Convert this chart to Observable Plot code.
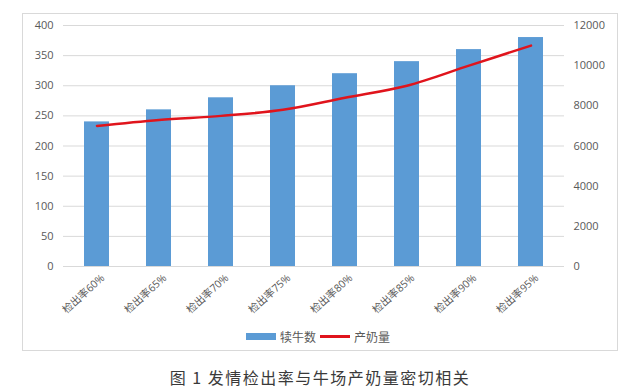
<!DOCTYPE html>
<html>
<head>
<meta charset="utf-8">
<script src="https://cdn.jsdelivr.net/npm/d3@7"></script>
<script src="https://cdn.jsdelivr.net/npm/@observablehq/plot@0.6"></script>
<style>
  body { margin: 0; background: #fff; width: 640px; height: 389px; position: relative; overflow: hidden; font-family: "Open Sans", "Noto Sans CJK SC", sans-serif; }
  #frame { position: absolute; left: 22px; top: 13px; width: 594px; height: 336px; border: 1px solid #d9d9d9; }
  #chart { position: absolute; left: 0; top: 0; }
  #legend { position: absolute; top: 326px; left: -4px; width: 640px; text-align: center; font-size: 12px; color: #595959; font-family: "Noto Sans CJK SC", sans-serif; }
  #legend span.sw { display: inline-block; vertical-align: middle; margin: 0 4px 0 4px; }
  #caption { position: absolute; top: 365px; left: 0; width: 640px; text-align: center; font-size: 16px; font-weight: 400; letter-spacing: 1.5px; color: #3a3a3a; font-family: "Noto Sans CJK SC", sans-serif; }
</style>
</head>
<body>
<div id="frame"></div>
<div id="chart"></div>
<div id="legend"></div>
<div id="caption">图 1 发情检出率与牛场产奶量密切相关</div>
<script>
const categories = ["检出率60%", "检出率65%", "检出率70%", "检出率75%", "检出率80%", "检出率85%", "检出率90%", "检出率95%"];
const calves = [240, 260, 280, 300, 320, 340, 360, 380];
const milk = [7000, 7300, 7500, 7800, 8400, 9000, 10000, 11000];
const leftTicks = [0, 50, 100, 150, 200, 250, 300, 350, 400];
const rightTicks = [0, 2000, 4000, 6000, 8000, 10000, 12000];
const seriesNames = ["犊牛数", "产奶量"];
const colors = ["#5b9bd5", "#e0141c"];

const ratio = 12000 / 400;
const table = categories.map((c, i) => ({cat: c, calves: calves[i], milk: milk[i], milkScaled: milk[i] / ratio}));

const chart = Plot.plot({
  width: 640,
  height: 320,
  marginTop: 25,
  marginBottom: 54,
  marginLeft: 63,
  marginRight: 76,
  style: {color: "#595959", fontFamily: "'Open Sans', 'Noto Sans CJK SC', sans-serif", fontSize: "11px", background: "transparent"},
  x: {domain: categories, paddingInner: 0.6, paddingOuter: 0.3, label: null},
  y: {domain: [0, 400], label: null},
  marks: [
    Plot.ruleY(leftTicks, {stroke: "#d9d9d9", strokeWidth: 1}),
    Plot.barY(table, {x: "cat", y: "calves", fill: colors[0]}),
    Plot.line(table, {x: "cat", y: "milkScaled", stroke: colors[1], strokeWidth: 2.5, curve: "catmull-rom"}),
    Plot.axisY(leftTicks, {anchor: "left", tickSize: 0, tickPadding: 10, label: null}),
    Plot.axisY(rightTicks.map(v => v / ratio), {anchor: "right", tickSize: 0, tickPadding: 9, label: null, tickFormat: d => String(Math.round(d * ratio))}),
    Plot.axisX({tickRotate: -42, tickSize: 0, tickPadding: 10, dx: 6, fontSize: 10.5, label: null})
  ]
});
document.getElementById("chart").appendChild(chart);

const legend = document.getElementById("legend");
legend.innerHTML =
  `<span class="sw" style="width:30px;height:7px;background:${colors[0]}"></span><span style="vertical-align:middle">${seriesNames[0]}</span>` +
  `<span class="sw" style="width:30px;height:2.5px;background:${colors[1]}"></span><span style="vertical-align:middle">${seriesNames[1]}</span>`;
</script>
</body>
</html>
